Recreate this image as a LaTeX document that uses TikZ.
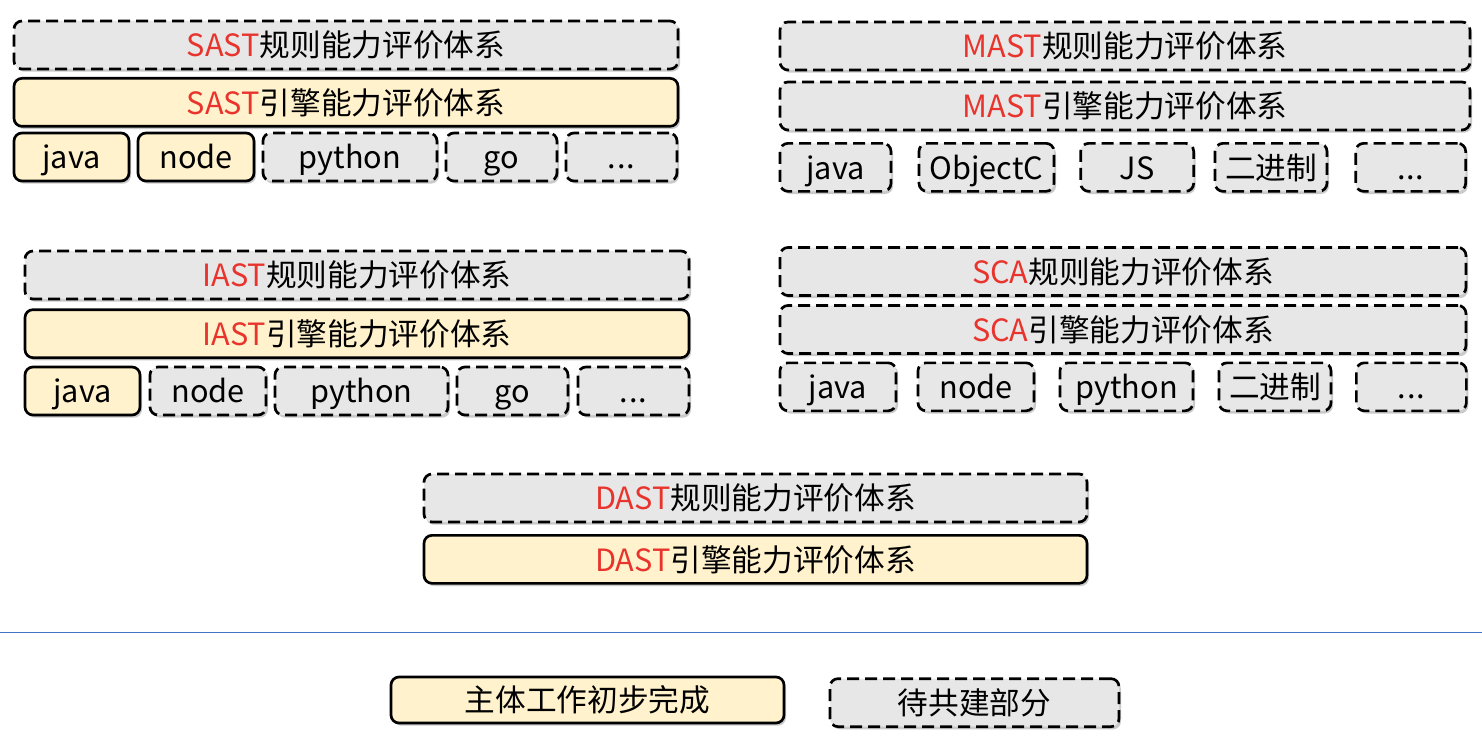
\documentclass[tikz,border=0pt]{standalone}
\usepackage{fontspec}
\setmainfont{Noto Sans CJK SC}
\usetikzlibrary{positioning,shadows}
\definecolor{keyred}{RGB}{232,52,44}
\definecolor{donefill}{RGB}{255,242,204}
\definecolor{todofill}{RGB}{231,231,231}
\definecolor{dividerblue}{RGB}{68,114,196}
\newcommand{\kw}[1]{\textcolor{keyred}{#1}}
\newcommand{\moredots}{.\kern0.6pt.\kern0.6pt.}
\tikzset{
  box base/.style={
    rectangle, rounded corners=6pt, line width=2pt, draw=black,
    minimum height=36pt, inner sep=2pt, align=center,
    font=\fontsize{23}{26}\selectfont, text height=23pt, text depth=5.5pt,
    drop shadow={shadow xshift=1.5pt, shadow yshift=-2pt, opacity=0.35, fill=black!60}
  },
  done box/.style={box base, fill=donefill},
  todo box/.style={box base, fill=todofill, dash pattern=on 9pt off 4.5pt},
  box width/.style={minimum width=#1*0.75pt},
  divider/.style={line width=0.75pt, dividerblue}
}
\begin{document}
\begin{tikzpicture}[x=0.75pt, y=-0.75pt, node distance=5pt]
  \useasboundingbox (0,0) rectangle (1482,742);
  % SAST
  \node[todo box, box width=664] (sastRule) at (346,45) {\kw{SAST}规则能力评价体系};
  \node[done box, box width=664, below=of sastRule] (sastEngine) {\kw{SAST}引擎能力评价体系};
  \node[done box, box width=115, below=3pt of sastEngine.south west, anchor=north west] (sastJava) {java};
  \node[done box, box width=116, right=4.75pt of sastJava] (sastNode) {node};
  \node[todo box, box width=174, right=4.75pt of sastNode] (sastPython) {python};
  \node[todo box, box width=111, right=4.75pt of sastPython] (sastGo) {go};
  \node[todo box, box width=111, right=4.75pt of sastGo] (sastMore) {\moredots};
  % MAST
  \node[todo box, box width=690] (mastRule) at (1125,46) {\kw{MAST}规则能力评价体系};
  \node[todo box, box width=690, below=7pt of mastRule] (mastEngine) {\kw{MAST}引擎能力评价体系};
  \node[todo box, box width=111, below=8pt of mastEngine.south west, anchor=north west] (mastJava) {java};
  \node[todo box, box width=135, right=19pt of mastJava] (mastObjc) {ObjectC};
  \node[todo box, box width=113, right=18pt of mastObjc] (mastJs) {JS};
  \node[todo box, box width=112, right=14pt of mastJs] (mastBin) {二进制};
  \node[todo box, box width=110, right=19.5pt of mastBin] (mastMore) {\moredots};
  % IAST
  \node[todo box, box width=664] (iastRule) at (357,275) {\kw{IAST}规则能力评价体系};
  \node[done box, box width=664, below=6pt of iastRule] (iastEngine) {\kw{IAST}引擎能力评价体系};
  \node[done box, box width=115, below=5pt of iastEngine.south west, anchor=north west] (iastJava) {java};
  \node[todo box, box width=116, right=5.5pt of iastJava] (iastNode) {node};
  \node[todo box, box width=173, right=4.75pt of iastNode] (iastPython) {python};
  \node[todo box, box width=111, right=4.75pt of iastPython] (iastGo) {go};
  \node[todo box, box width=111, right=5.5pt of iastGo] (iastMore) {\moredots};
  % SCA
  \node[todo box, box width=686] (scaRule) at (1123,271.5) {\kw{SCA}规则能力评价体系};
  \node[todo box, box width=686, below=5.5pt of scaRule] (scaEngine) {\kw{SCA}引擎能力评价体系};
  \node[todo box, box width=116, below=5pt of scaEngine.south west, anchor=north west] (scaJava) {java};
  \node[todo box, box width=116, right=14.5pt of scaJava] (scaNode) {node};
  \node[todo box, box width=133, right=17.5pt of scaNode] (scaPython) {python};
  \node[todo box, box width=112, right=17.5pt of scaPython] (scaBin) {二进制};
  \node[todo box, box width=110, right=17pt of scaBin] (scaMore) {\moredots};
  % DAST
  \node[todo box, box width=663] (dastRule) at (755.5,498) {\kw{DAST}规则能力评价体系};
  \node[done box, box width=663, below=8pt of dastRule] (dastEngine) {\kw{DAST}引擎能力评价体系};
  % legend
  \draw[divider] (0,632) -- (1482,632);
  \node[done box, box width=393, minimum height=34.5pt] (legendDone) at (587.5,700) {主体工作初步完成};
  \node[todo box, box width=289, right=32.5pt of legendDone, yshift=-2pt] (legendTodo) {待共建部分};
\end{tikzpicture}
\end{document}
